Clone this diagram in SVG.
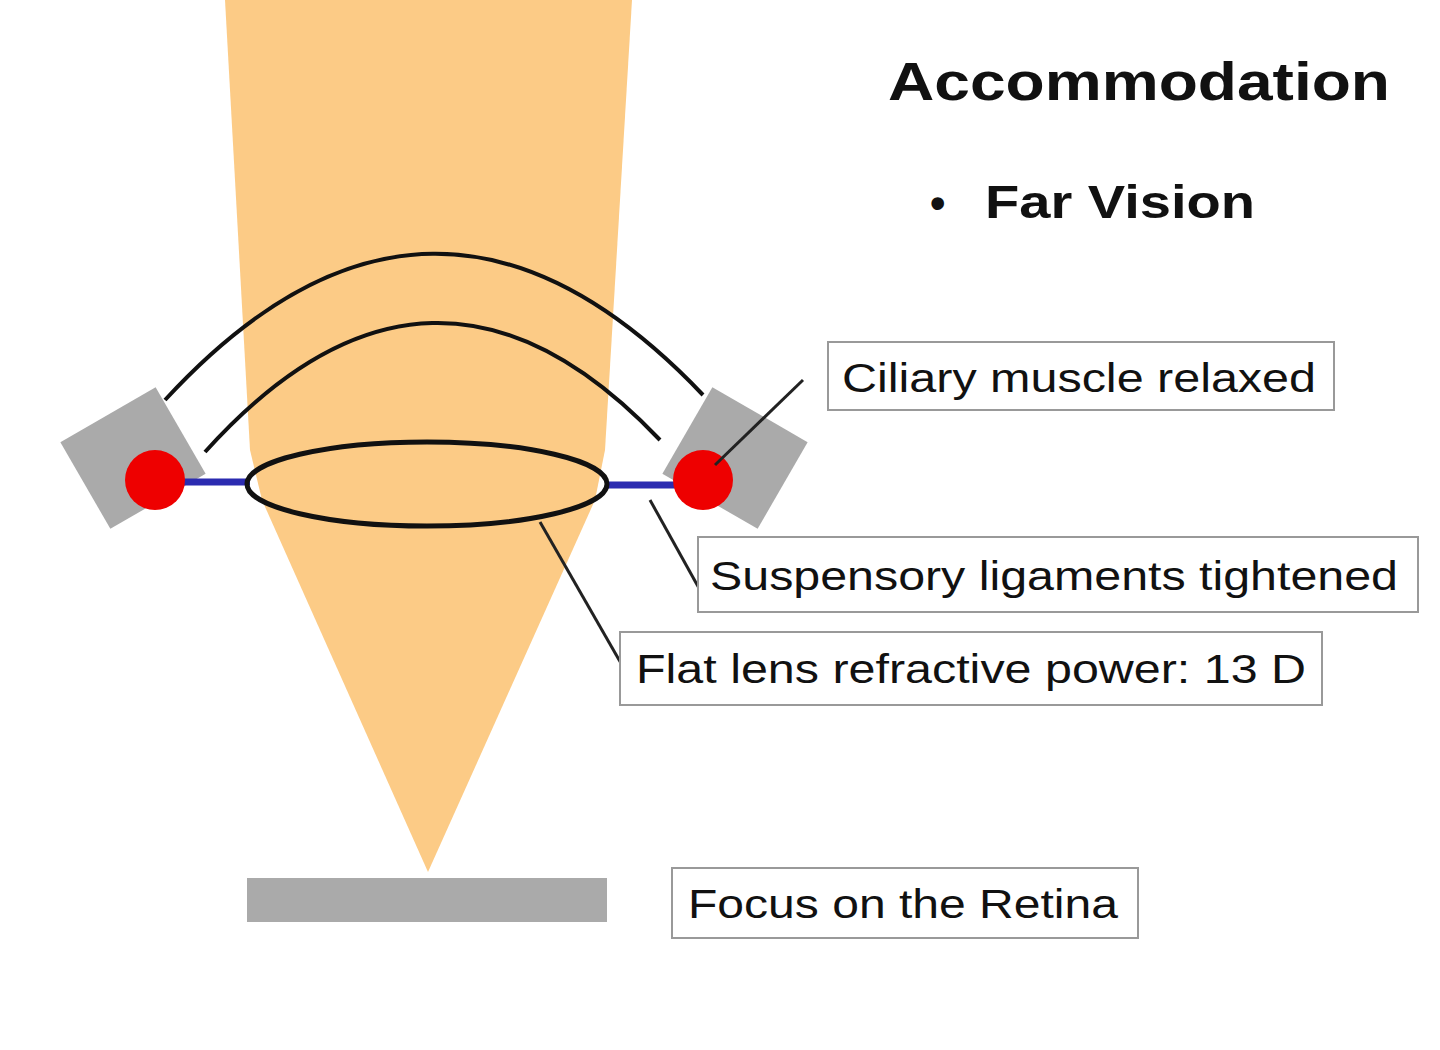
<svg xmlns="http://www.w3.org/2000/svg" width="1440" height="1050" viewBox="0 0 1440 1050">
<style>
.lbl{font-family:"Liberation Sans",Arial,sans-serif;font-size:40px;fill:#111}
.box{fill:#fff;stroke:#999;stroke-width:2}
.ld{stroke:#222;stroke-width:3;fill:none}
.arc{stroke:#111;stroke-width:4;fill:none}
</style>
<rect width="1440" height="1050" fill="#fff"/>
<g id="beam"><polygon points="225,0 632,0 605,450 595,500 428,872 262,500 250,450" fill="#fccb86"/></g>
<g id="retina"><rect x="247" y="878" width="360" height="44" fill="#aaa"/></g>
<g id="ciliary-left"><rect x="78" y="408" width="110" height="100" fill="#aaa" transform="rotate(-30 133 458)"/></g>
<g id="ciliary-right"><rect x="680" y="408" width="110" height="100" fill="#aaa" transform="rotate(30 735 458)"/></g>
<g id="ligaments"><line x1="180" y1="482" x2="250" y2="482" stroke="#2b2bb0" stroke-width="7"/><line x1="605" y1="485" x2="675" y2="485" stroke="#2b2bb0" stroke-width="7"/></g>
<g id="arcs"><path class="arc" d="M165,400 Q432,110 703,395"/><path class="arc" d="M205,452 Q432,200 660,440"/></g>
<g id="lens"><ellipse cx="427" cy="484" rx="180" ry="42" fill="none" stroke="#111" stroke-width="5"/></g>
<g id="dots"><circle cx="155" cy="480" r="30" fill="#e00"/><circle cx="703" cy="480" r="30" fill="#e00"/></g>
<g id="connectors"><line class="ld" x1="803" y1="380" x2="715" y2="465"/><line class="ld" x1="650" y1="500" x2="700" y2="590"/><line class="ld" x1="540" y1="522" x2="622" y2="665"/></g>
<g id="title"><text x="888" y="100" font-family="Liberation Sans,Arial,sans-serif" font-size="54" font-weight="bold" fill="#111" textLength="502" lengthAdjust="spacingAndGlyphs">Accommodation</text>
<text x="930" y="218" font-family="Liberation Sans,Arial,sans-serif" font-size="44" font-weight="bold" fill="#111">•</text>
<text x="985" y="218" font-family="Liberation Sans,Arial,sans-serif" font-size="46" font-weight="bold" fill="#111" textLength="270" lengthAdjust="spacingAndGlyphs">Far Vision</text></g>
<g id="lbl1"><rect class="box" x="828" y="342" width="506" height="68"/><text class="lbl" x="842" y="392" textLength="474" lengthAdjust="spacingAndGlyphs">Ciliary muscle relaxed</text></g>
<g id="lbl2"><rect class="box" x="698" y="537" width="720" height="75"/><text class="lbl" x="710" y="590" textLength="688" lengthAdjust="spacingAndGlyphs">Suspensory ligaments tightened</text></g>
<g id="lbl3"><rect class="box" x="620" y="632" width="702" height="73"/><text class="lbl" x="636" y="683" textLength="670" lengthAdjust="spacingAndGlyphs">Flat lens refractive power: 13 D</text></g>
<g id="lbl4"><rect class="box" x="672" y="868" width="466" height="70"/><text class="lbl" x="688" y="918" textLength="430" lengthAdjust="spacingAndGlyphs">Focus on the Retina</text></g>
</svg>
